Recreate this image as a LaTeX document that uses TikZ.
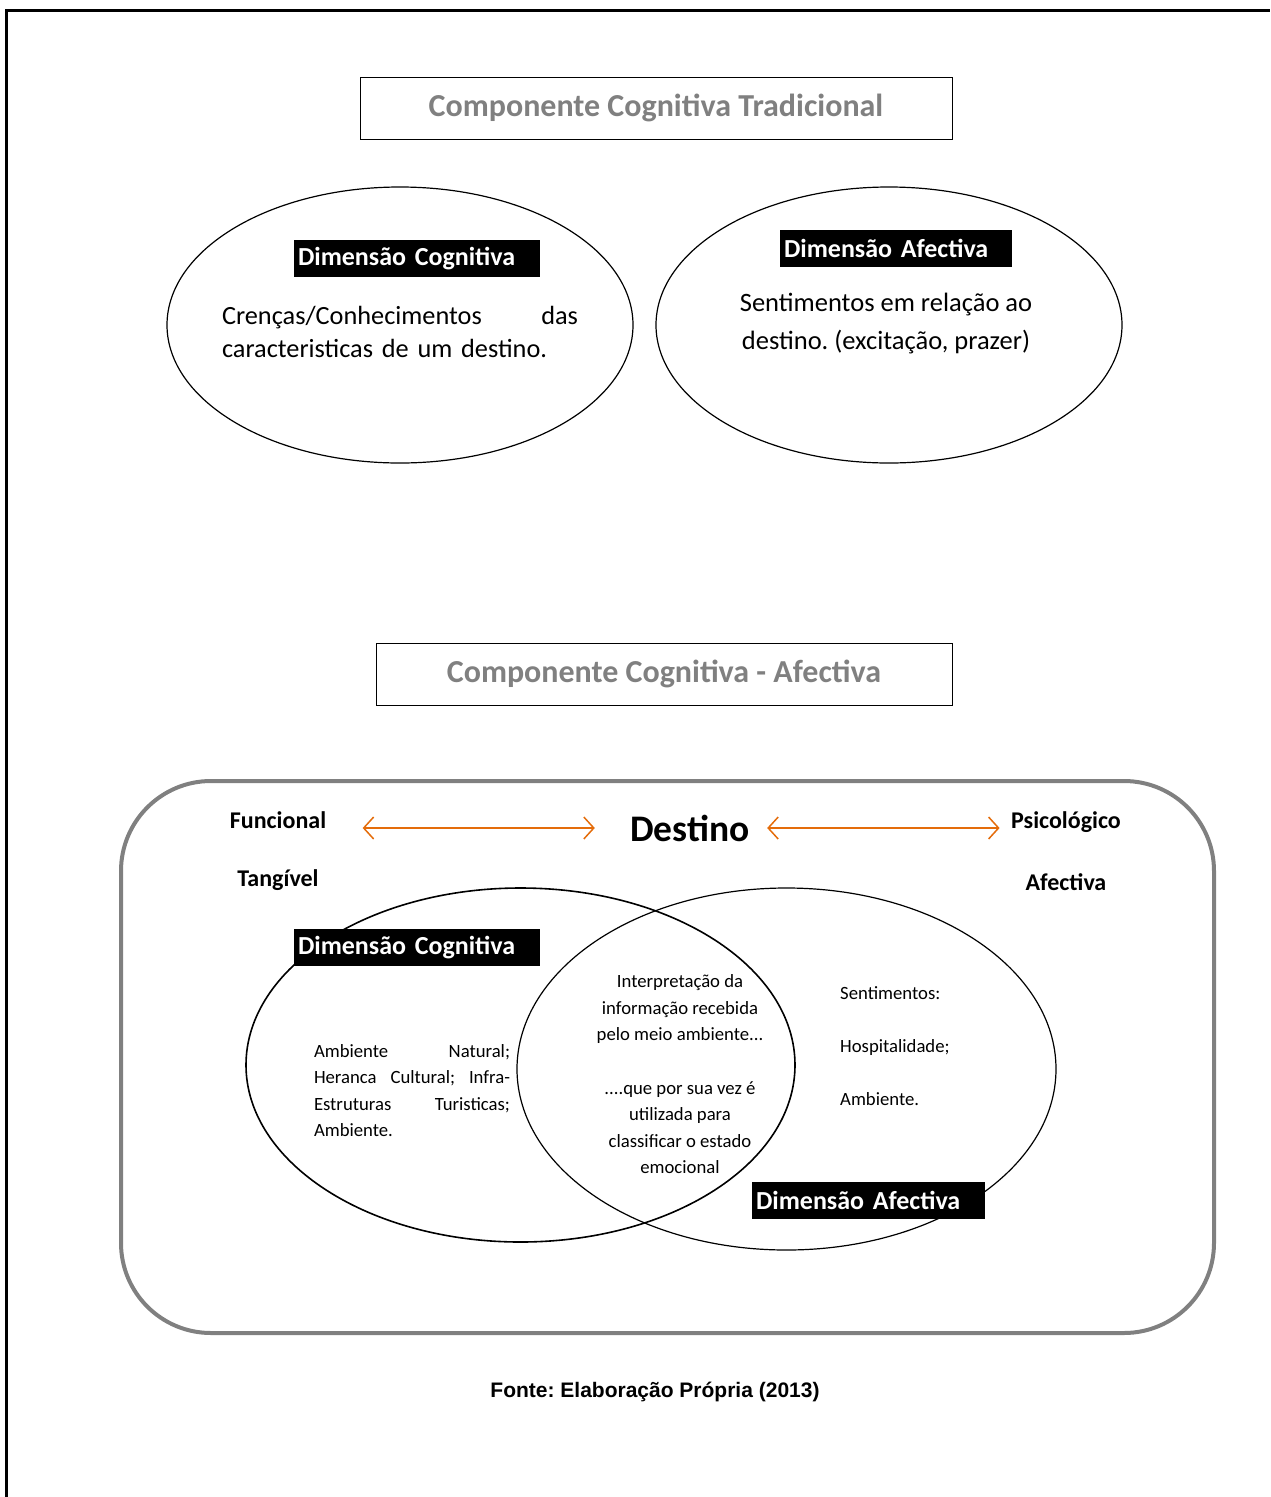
\documentclass[tikz,border=0pt]{standalone}
\usepackage{fontspec}
\setmainfont{Carlito}
\newfontfamily\arialfont{Liberation Sans}
\usetikzlibrary{arrows.meta,positioning,shapes.geometric}
\frenchspacing

\definecolor{titlegray}{RGB}{128,128,128}
\definecolor{framegray}{RGB}{128,128,128}
\definecolor{arroworange}{RGB}{228,108,10}

\tikzset{
	titlebox/.style={draw, line width=1pt, minimum height=62pt, text=titlegray, font=\fontsize{32}{38}\selectfont\bfseries},
	dimbox/.style={fill=black, text=white, inner xsep=4pt, inner ysep=0pt, minimum height=37pt, align=left, font=\fontsize{26}{30}\selectfont\bfseries},
	bubble/.style={draw, ellipse, inner sep=0pt},
	twoway/.style={arroworange, line width=1.5pt, {Straight Barb[length=10pt,width=22pt]}-{Straight Barb[length=10pt,width=22pt]}},
	side/.style={font=\fontsize{24}{28}\selectfont\bfseries},
	smalltext/.style={inner sep=0pt, font=\fontsize{18.7}{26.5}\selectfont}
}

\begin{document}
\begin{tikzpicture}[x=1pt,y=-1pt]
	\useasboundingbox (0,0) rectangle (1270,1497);
	\draw[line width=2.2pt] (6.5,1497) -- (6.5,10.5) -- (1270,10.5);

	% traditional component
	\node[titlebox, minimum width=592pt] (tradicional) at (656,108) {Componente Cognitiva Tradicional};

	\node[bubble, line width=1.2pt, minimum width=466pt, minimum height=276pt] (cogtop) at (400,325) {};
	\node[bubble, line width=1.2pt, minimum width=466pt, minimum height=276pt] (afetop) at (889,325) {};

	\node[dimbox, text width=238pt] (cogtoplabel) at (417,258.5) {Dimensão Cognitiva};
	\node[dimbox, text width=224pt] (afetoplabel) at (896,248.5) {Dimensão Afectiva};

	\node[text width=356pt, align=left, inner sep=0pt, font=\fontsize{26.3}{33}\selectfont] (crencas) at (400,332) {Crenças/Conhecimentos\hfill das\\ caracteristicas de um destino.};
	\node[align=center, inner sep=0pt, font=\fontsize{26.5}{38}\selectfont] (sentimentos) at (886,324) {Sentimentos em relação ao\\ destino. (excitação, prazer)};

	% cognitive - affective component
	\node[titlebox, minimum width=576pt] (cogafe) at (664,674) {Componente Cognitiva - Afectiva};

	\draw[framegray, line width=4pt, rounded corners=90pt] (121,781) rectangle (1214,1333);

	\node[side] (funcional) at (278,820) {Funcional};
	\node[side] (tangivel) at (278,880) {Tangível};
	\node[font=\fontsize{37.5}{44}\selectfont\bfseries] (destino) at (690,828) {Destino};
	\node[side] (psicologico) at (1066,822) {Psicológico};
	\node[side] (afectiva) at (1066,882) {Afectiva};

	\draw[twoway] ([xshift=33pt]funcional.east |- destino) -- ([xshift=-32pt]destino.west);
	\draw[twoway] ([xshift=14pt]destino.east) -- ([xshift=-8pt]destino.east -| psicologico.west);

	\node[bubble, line width=1.6pt, minimum width=549pt, minimum height=354pt] (cogbot) at (520.5,1065) {};
	\node[bubble, line width=1.2pt, minimum width=539pt, minimum height=362pt] (afebot) at (786.5,1069) {};

	\node[dimbox, text width=238pt] (cogbotlabel) at (417,947.5) {Dimensão Cognitiva};
	\node[dimbox, text width=225pt] (afebotlabel) at (868.5,1200) {Dimensão Afectiva};

	\node[smalltext, text width=196pt, align=left] (tangiveis) at (412,1090.5) {Ambiente\hfill Natural;\\ Heranca\hfill Cultural;\hfill Infra-\\ Estruturas\hfill Turisticas;\\ Ambiente.};
	\node[smalltext, align=center] (interpretacao) at (680,1009) {Interpretação da\\ informação recebida\\ pelo meio ambiente...};
	\node[smalltext, align=center] (classificar) at (680,1127.5) {....que por sua vez é\\ utilizada para\\ classificar o estado\\ emocional};
	\node[smalltext, align=left, font=\fontsize{18.7}{53}\selectfont, anchor=west] (emocoes) at (840,1046) {Sentimentos:\\ Hospitalidade;\\ Ambiente.};

	\node[font=\arialfont\fontsize{21}{25}\selectfont\bfseries] (fonte) at (655,1392) {Fonte: Elaboração Própria (2013)};
\end{tikzpicture}
\end{document}
